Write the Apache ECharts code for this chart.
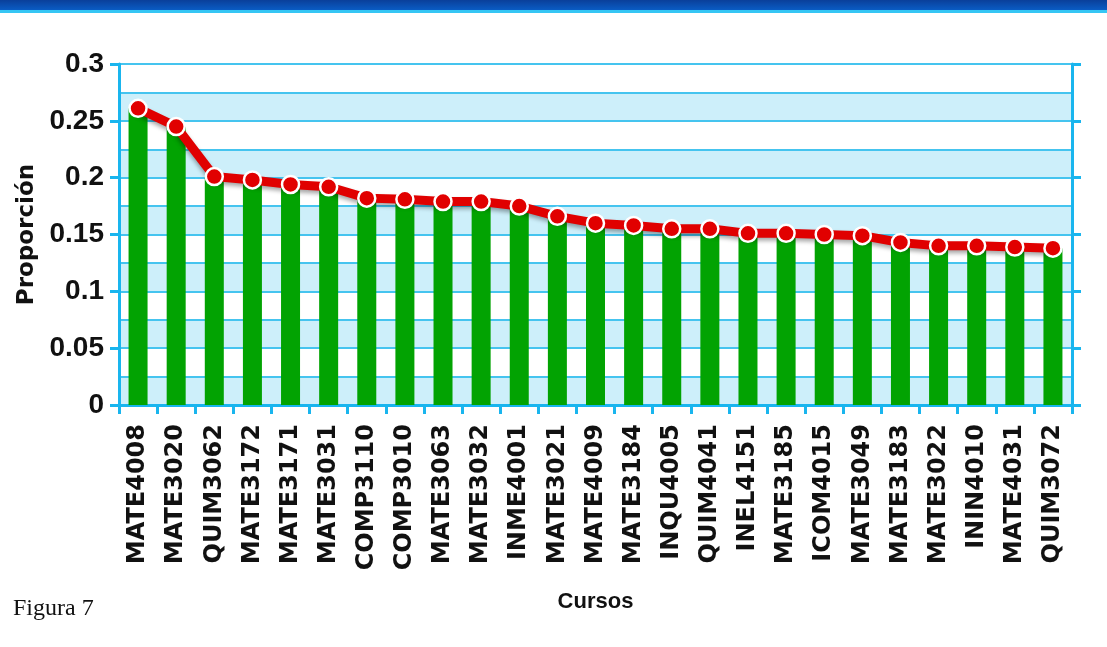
<!DOCTYPE html>
<html>
<head>
<meta charset="utf-8">
<title>Figura 7</title>
<script src="https://cdn.jsdelivr.net/npm/echarts@6/dist/echarts.min.js"></script>
<style>
  html, body { margin: 0; padding: 0; background: #fff; }
  #chart { width: 1107px; height: 647px; }
</style>
</head>
<body>
<div id="chart"></div>
<script>
const cursos = [
  'MATE4008', 'MATE3020', 'QUIM3062', 'MATE3172', 'MATE3171', 'MATE3031', 'COMP3110',
  'COMP3010', 'MATE3063', 'MATE3032', 'INME4001', 'MATE3021', 'MATE4009', 'MATE3184',
  'INQU4005', 'QUIM4041', 'INEL4151', 'MATE3185', 'ICOM4015', 'MATE3049', 'MATE3183',
  'MATE3022', 'ININ4010', 'MATE4031', 'QUIM3072'
];
const proporcion = [
  0.261, 0.245, 0.201, 0.198, 0.194, 0.192, 0.182,
  0.181, 0.179, 0.179, 0.175, 0.166, 0.16, 0.158,
  0.155, 0.155, 0.151, 0.151, 0.15, 0.149, 0.143,
  0.14, 0.14, 0.139, 0.138
];
const yMin = 0;
const yMax = 0.3;
const yStep = 0.05;
const bandStep = 0.025;

const axisBlue = '#19b5ee';

const chart = echarts.init(document.getElementById('chart'));

const option = {
  backgroundColor: '#ffffff',
  animation: false,
  graphic: [
    {
      type: 'rect',
      shape: { x: 0, y: 0, width: 1107, height: 10 },
      style: {
        fill: new echarts.graphic.LinearGradient(0, 0, 0, 1, [
          { offset: 0, color: '#0a3f9a' },
          { offset: 1, color: '#0a5cc4' }
        ])
      }
    },
    {
      type: 'rect',
      shape: { x: 0, y: 10, width: 1107, height: 3 },
      style: { fill: '#35c6f4' }
    },
    {
      type: 'text',
      left: 13,
      top: 597,
      style: {
        text: 'Figura 7',
        font: '24px "Liberation Serif", serif',
        fill: '#111'
      }
    }
  ],
  grid: {
    left: 119,
    right: 35,
    top: 64,
    bottom: 242,
    outerBoundsMode: 'none'
  },
  xAxis: {
    type: 'category',
    data: cursos,
    boundaryGap: true,
    name: 'Cursos',
    nameLocation: 'middle',
    nameGap: 186,
    nameTextStyle: {
      fontFamily: '"Liberation Sans", Arial, sans-serif',
      fontWeight: 'bold',
      fontSize: 22,
      color: '#111'
    },
    axisLine: { lineStyle: { color: axisBlue, width: 3 } },
    axisTick: { show: true, interval: 0, length: 9, lineStyle: { color: axisBlue, width: 3 } },
    axisLabel: {
      interval: 0,
      rotate: 90,
      margin: 19,
      fontFamily: '"DejaVu Sans", sans-serif',
      fontWeight: 'bold',
      fontSize: 24,
      color: '#111'
    },
    splitLine: { show: false }
  },
  yAxis: [
    {
      type: 'value',
      position: 'left',
      min: yMin,
      max: yMax,
      interval: yStep,
      name: 'Proporción',
      nameLocation: 'middle',
      nameRotate: 90,
      nameGap: 60,
      nameTextStyle: {
        fontFamily: '"DejaVu Sans", sans-serif',
        fontWeight: 'bold',
        fontSize: 23,
        color: '#111'
      },
      axisLine: { show: true, lineStyle: { color: axisBlue, width: 3 } },
      axisTick: { show: true, length: 9, lineStyle: { color: axisBlue, width: 3 } },
      axisLabel: {
        margin: 15,
        fontFamily: '"Liberation Sans", Arial, sans-serif',
        fontWeight: 'bold',
        fontSize: 28,
        color: '#111',
        formatter: (v) => String(parseFloat(v.toFixed(2)))
      },
      splitLine: { show: false },
      z: 5
    },
    {
      type: 'value',
      position: 'right',
      min: yMin,
      max: yMax,
      interval: yStep,
      axisLine: { show: true, lineStyle: { color: axisBlue, width: 3 } },
      axisTick: { show: true, length: 9, lineStyle: { color: axisBlue, width: 3 } },
      axisLabel: { show: false },
      splitLine: { show: false },
      z: 5
    },
    {
      type: 'value',
      position: 'left',
      min: yMin,
      max: yMax,
      interval: bandStep,
      axisLine: { show: false },
      axisTick: { show: false },
      axisLabel: { show: false },
      splitLine: { show: true, lineStyle: { color: '#45c4ef', width: 2 } },
      splitArea: { show: true, areaStyle: { color: ['#cdeffa', '#ffffff'] } }
    }
  ],
  series: [
    {
      name: 'Proporción',
      type: 'bar',
      yAxisIndex: 0,
      barWidth: 19,
      itemStyle: { color: '#02a302' },
      data: proporcion,
      z: 2
    },
    {
      name: 'Proporción línea',
      type: 'line',
      yAxisIndex: 0,
      symbol: 'circle',
      symbolSize: 17,
      itemStyle: { color: '#e10000', borderColor: '#ffffff', borderWidth: 2.5 },
      lineStyle: {
        color: '#e00000',
        width: 9,
        shadowColor: 'rgba(0,0,0,0.35)',
        shadowBlur: 4,
        shadowOffsetY: 3
      },
      data: proporcion,
      z: 4
    }
  ]
};

chart.setOption(option);
</script>
</body>
</html>
